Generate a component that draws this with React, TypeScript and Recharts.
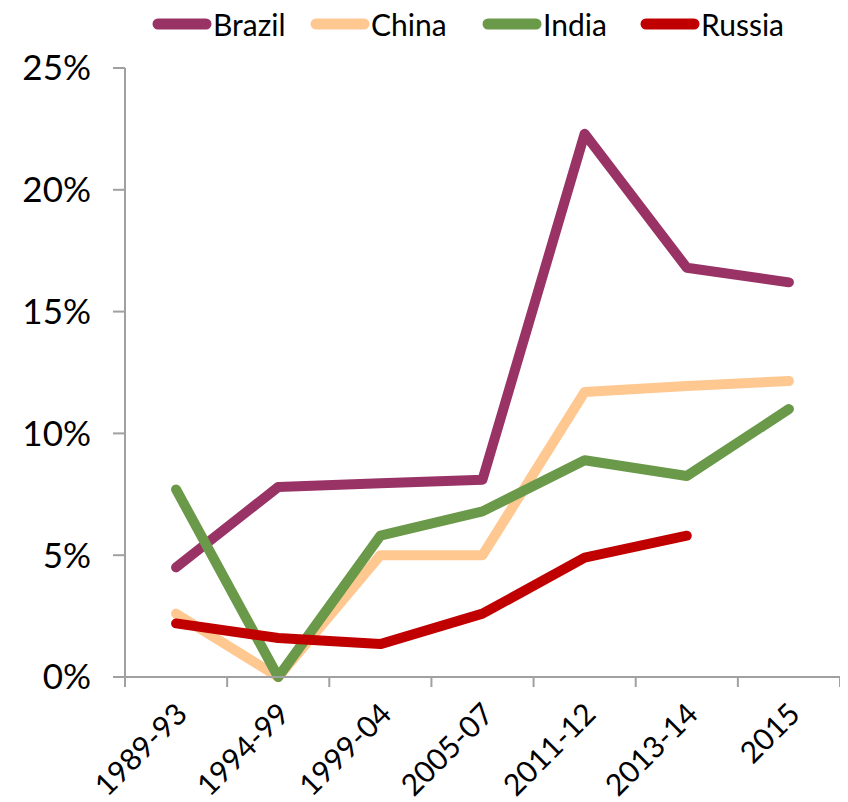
import React from "react";
import { LineChart, Line, XAxis, YAxis } from "recharts";

const categories = ["1989-93", "1994-99", "1999-04", "2005-07", "2011-12", "2013-14", "2015"];
const brazil = [4.5, 7.8, 7.95, 8.1, 22.3, 16.8, 16.2];
const china = [2.6, 0, 5.0, 5.0, 11.7, 11.95, 12.15];
const india = [7.7, 0, 5.8, 6.8, 8.9, 8.25, 11.0];
const russia: (number | null)[] = [2.2, 1.6, 1.35, 2.6, 4.9, 5.8, null];
const yTicks = [0, 5, 10, 15, 20, 25];

const seriesNames = ["Brazil", "China", "India", "Russia"];
const seriesColors = ["#993366", "#FFC891", "#6A994A", "#C00000"];
const seriesValues = [brazil, china, india, russia];

const data = categories.map((c, i) => {
  const row: Record<string, string | number | null> = { cat: c };
  seriesNames.forEach((n, k) => {
    row[n] = seriesValues[k][i];
  });
  return row;
});

const FONT = "'Century Gothic', 'URW Gothic', Lato, 'DejaVu Sans', sans-serif";
const AXIS_GRAY = "#A0A0A0";

// layout constants
const W = 840;
const H = 794;
const TOP = 60;
const XAXIS_H = 125;
const YAXIS_W = 117;
const RIGHT = 8;
const AXIS_Y = H - XAXIS_H;
const HALF_BAND = (W - RIGHT - YAXIS_W) / categories.length / 2;
const legendLefts = [144, 302, 474, 632];

const XTick = (props: any) => {
  const { x, payload, index } = props;
  const last = index === categories.length - 1;
  return (
    <g>
      <line x1={x - HALF_BAND} y1={AXIS_Y} x2={x - HALF_BAND} y2={AXIS_Y + 10} stroke={AXIS_GRAY} strokeWidth={2} />
      {last && (
        <line x1={x + HALF_BAND} y1={AXIS_Y} x2={x + HALF_BAND} y2={AXIS_Y + 10} stroke={AXIS_GRAY} strokeWidth={2} />
      )}
      <g transform={`translate(${x + 13},${AXIS_Y + 39}) rotate(-45)`}>
        <text x={0} y={0} textAnchor="end" fill="#000" fontSize={30} fontFamily={FONT}>
          {payload.value}
        </text>
      </g>
    </g>
  );
};

export default function App() {
  return (
    <div style={{ position: "relative", width: W, height: H, background: "#fff" }}>
      {seriesNames.map((n, k) => (
        <div
          key={n}
          style={{
            position: "absolute",
            top: 0,
            left: legendLefts[k],
            height: 32,
            display: "flex",
            alignItems: "center",
            fontFamily: FONT,
            fontSize: 30,
            color: "#000",
            zIndex: 2,
            whiteSpace: "nowrap",
          }}
        >
          <svg width={60} height={14} style={{ display: "block" }}>
            <line x1={6} y1={7} x2={54} y2={7} stroke={seriesColors[k]} strokeWidth={11} strokeLinecap="round" />
          </svg>
          <span style={{ marginLeft: 1 }}>{n}</span>
        </div>
      ))}
      <LineChart width={W} height={H} data={data} margin={{ top: TOP, right: RIGHT, bottom: 0, left: 0 }}>
        <XAxis
          dataKey="cat"
          interval={0}
          height={XAXIS_H}
          padding={{ left: HALF_BAND, right: HALF_BAND }}
          tick={<XTick />}
          tickLine={false}
          axisLine={{ stroke: AXIS_GRAY, strokeWidth: 2 }}
        />
        <YAxis
          width={YAXIS_W}
          domain={[0, 25]}
          ticks={yTicks}
          interval={0}
          tickFormatter={(v: number) => `${v}%`}
          tickSize={12}
          tickMargin={22}
          tick={{ fill: "#000", fontSize: 35, fontFamily: FONT }}
          axisLine={{ stroke: AXIS_GRAY, strokeWidth: 2 }}
          tickLine={{ stroke: AXIS_GRAY, strokeWidth: 2 }}
        />
        {seriesNames.map((n, k) => (
          <Line
            key={n}
            dataKey={n}
            type="linear"
            stroke={seriesColors[k]}
            strokeWidth={10}
            strokeLinecap="round"
            strokeLinejoin="round"
            dot={false}
            activeDot={false}
            connectNulls={false}
            isAnimationActive={false}
          />
        ))}
      </LineChart>
    </div>
  );
}
